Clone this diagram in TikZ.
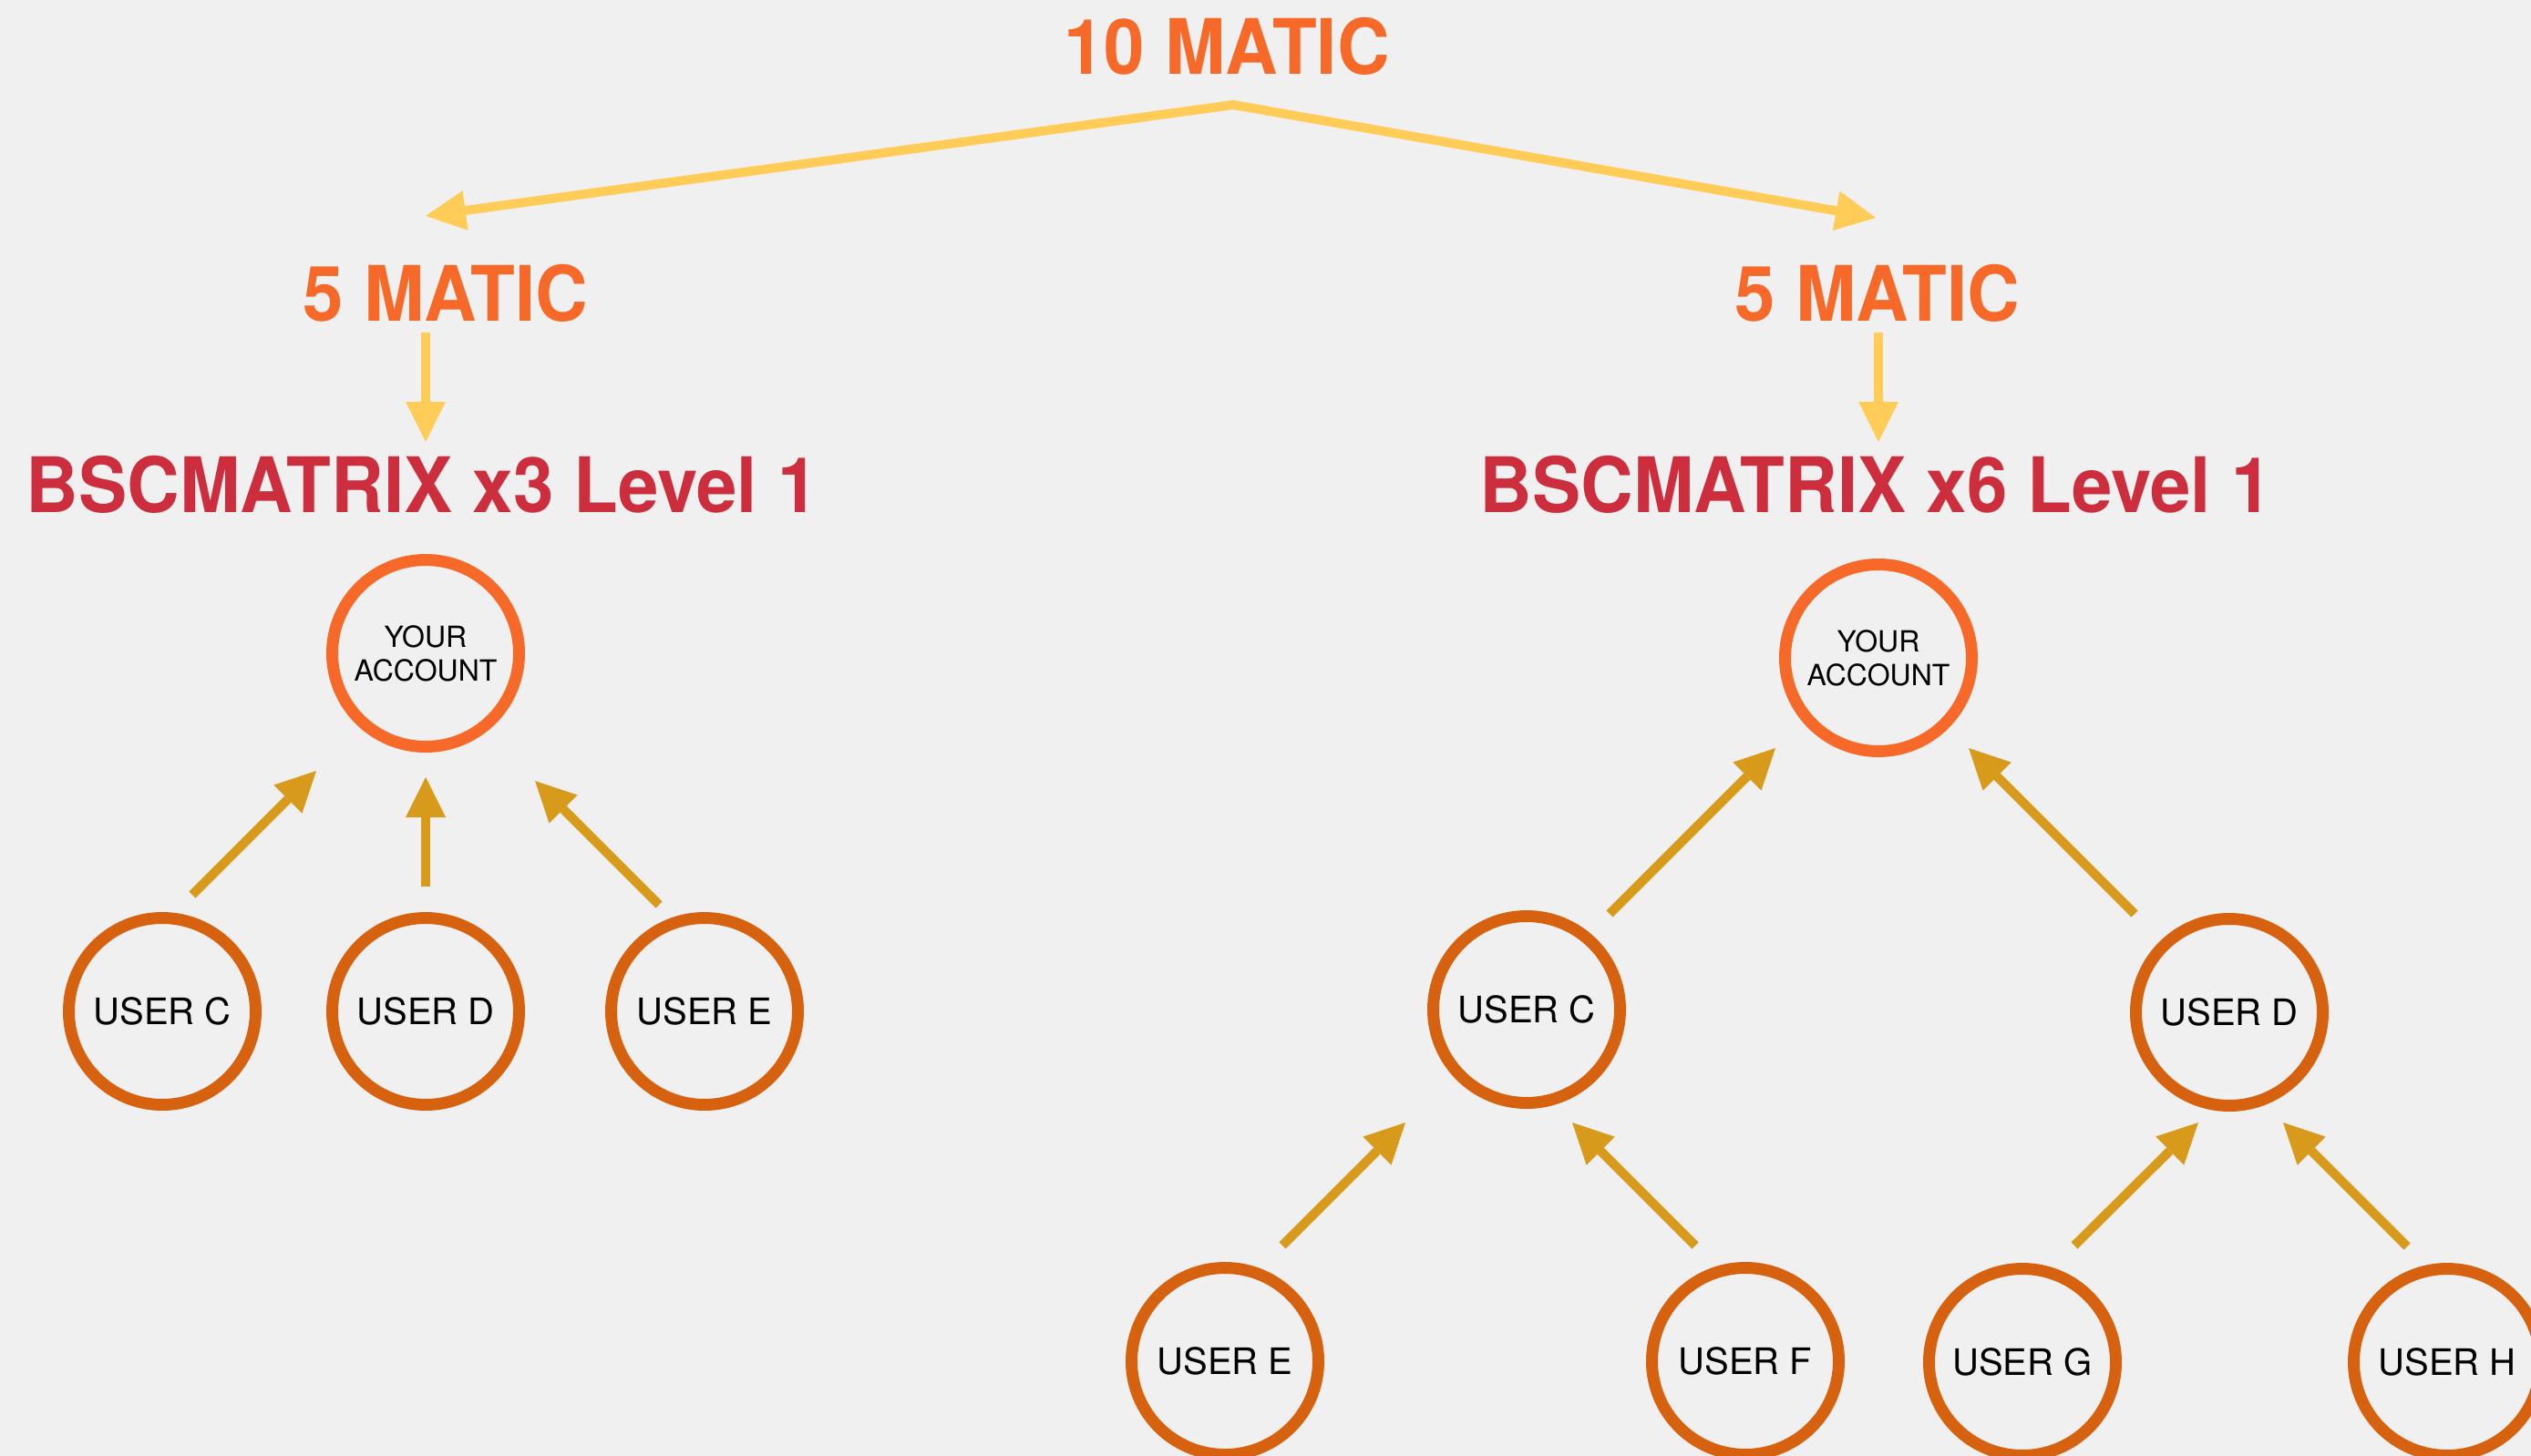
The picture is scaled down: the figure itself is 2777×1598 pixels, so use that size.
\documentclass[tikz,border=0pt]{standalone}
\usepackage{fontspec}
\setmainfont{TeX Gyre Heros}
\newfontfamily\titlefont{TeX Gyre Heros}[FakeStretch=0.95]
\usetikzlibrary{arrows.meta}
\definecolor{bgc}{HTML}{F0F0F0}
\definecolor{orangeT}{HTML}{F76928}
\definecolor{redT}{HTML}{CC2E3E}
\definecolor{yellowA}{HTML}{FFCD57}
\definecolor{goldA}{HTML}{D89A1B}
\definecolor{userC}{HTML}{D6620F}
\tikzset{
  titletext/.style={font=\titlefont\bfseries\fontsize{84}{96}\selectfont, anchor=base, inner sep=0pt},
  yourbox/.style={circle, draw=orangeT, line width=13pt, minimum size=205pt, inner sep=0pt,
    font=\fontsize{32}{37}\selectfont, align=center},
  userbox/.style={circle, draw=userC, line width=13pt, minimum size=205pt, inner sep=0pt,
    font=\fontsize{40}{46}\selectfont},
  yarrow/.style={draw=yellowA, line width=10pt, -{Triangle[width=44pt,length=44pt,line width=0pt]}},
  garrow/.style={draw=goldA, line width=10pt, -{Triangle[width=44pt,length=44pt,line width=0pt]}},
}
\begin{document}
\begin{tikzpicture}[x=1pt,y=-1pt]
\useasboundingbox[fill=bgc] (0,0) rectangle (2777,1598);
% titles
\node[titletext, text=orangeT] (t10) at (1346,81) {10 MATIC};
\node[titletext, text=orangeT] (m5l) at (489,352) {5 MATIC};
\node[titletext, text=orangeT] (m5r) at (2060,352) {5 MATIC};
\node[titletext, text=redT] (bl) at (463,562) {BSCMATRIX x3 Level 1};
\node[titletext, text=redT] (br) at (2058,562) {BSCMATRIX x6 Level 1};
% account circles
\node[yourbox] (yal) at (467,717) {YOUR\\ACCOUNT};
\node[yourbox] (yar) at (2061,722) {YOUR\\ACCOUNT};
% left users
\node[userbox] (lc) at (178,1110) {USER C};
\node[userbox] (ld) at (467,1110) {USER D};
\node[userbox] (le) at (773,1110) {USER E};
% right users
\node[userbox] (rc) at (1675,1108) {USER C};
\node[userbox] (rd) at (2446,1111) {USER D};
\node[userbox] (re) at (1344,1494) {USER E};
\node[userbox] (rf) at (1915,1494) {USER F};
\node[userbox] (rg) at (2219,1495) {USER G};
\node[userbox] (rh) at (2685,1495) {USER H};
% yellow split arrow
\coordinate (peak) at (1353,115);
\coordinate (tipl) at (467,237);
\coordinate (tipr) at (2058,239);
\draw[draw=yellowA, line width=10pt, line join=miter,
  {Triangle[width=44pt,length=44pt,line width=0pt]}-{Triangle[width=44pt,length=44pt,line width=0pt]}]
  (tipl) -- (peak) -- (tipr);
% yellow down arrows
\coordinate (dls) at (467,365); \coordinate (dle) at (467,485);
\coordinate (drs) at (2061,365); \coordinate (dre) at (2061,485);
\draw[yarrow] (dls) -- (dle);
\draw[yarrow] (drs) -- (dre);
% left tree arrows
\coordinate (a1s) at (211,982); \coordinate (a1e) at (347,846);
\coordinate (a2s) at (467,973); \coordinate (a2e) at (467,853);
\coordinate (a3s) at (723,993); \coordinate (a3e) at (587,857);
\draw[garrow] (a1s) -- (a1e);
\draw[garrow] (a2s) -- (a2e);
\draw[garrow] (a3s) -- (a3e);
% right tree arrows
\coordinate (b1s) at (1766,1003); \coordinate (b1e) at (1948,821);
\coordinate (b2s) at (2342,1003); \coordinate (b2e) at (2160,821);
\coordinate (b3s) at (1407,1367); \coordinate (b3e) at (1542,1232);
\coordinate (b4s) at (1860,1367); \coordinate (b4e) at (1725,1232);
\coordinate (b5s) at (2276,1367); \coordinate (b5e) at (2412,1232);
\coordinate (b6s) at (2641,1368); \coordinate (b6e) at (2505,1232);
\draw[garrow] (b1s) -- (b1e);
\draw[garrow] (b2s) -- (b2e);
\draw[garrow] (b3s) -- (b3e);
\draw[garrow] (b4s) -- (b4e);
\draw[garrow] (b5s) -- (b5e);
\draw[garrow] (b6s) -- (b6e);
\end{tikzpicture}
\end{document}
